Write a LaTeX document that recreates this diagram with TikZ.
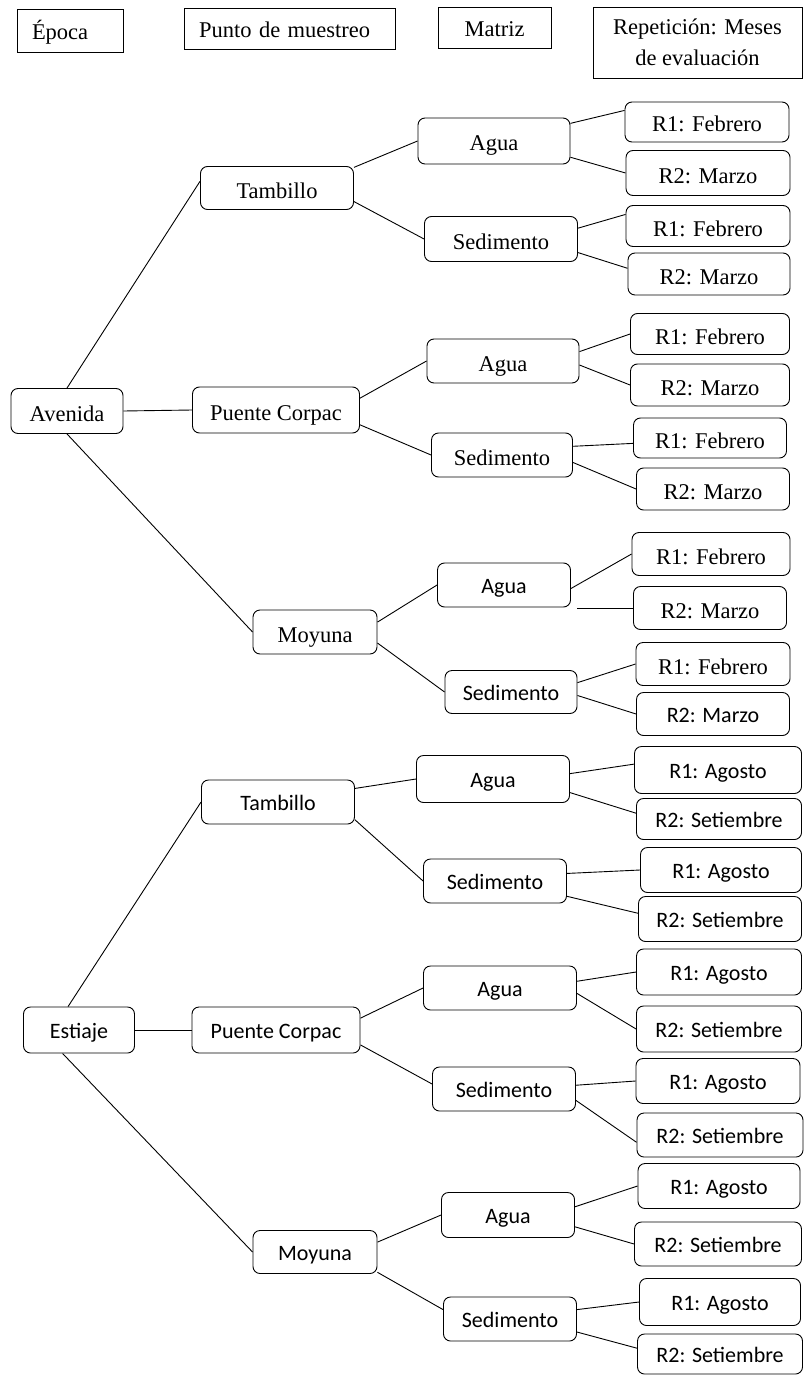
\documentclass[tikz,border=0pt]{standalone}
\usepackage{fontspec}
\setmainfont{Liberation Serif}
\newfontfamily\calfont{Carlito}

\tikzset{
	hdr/.style={draw, line width=0.9pt, inner sep=0pt, align=center, font=\fontsize{22.5}{31}\selectfont},
	hdrl/.style={hdr, align=left, inner xsep=15pt, text height=18pt, text depth=0pt},
	box/.style={draw, rounded corners=7pt, line width=0.9pt, inner sep=0pt, align=center, text height=20pt, text depth=0pt, font=\fontsize{22.5}{26}\selectfont},
	cbox/.style={box, text height=16pt, font=\calfont\fontsize{22}{26}\selectfont},
	sz/.style 2 args={minimum width=#1pt, minimum height=#2pt},
	link/.style={line width=0.9pt},
}

\begin{document}
\begin{tikzpicture}[x=1pt, y=-1pt]
	\useasboundingbox (0,0) rectangle (803,1375);
	% encabezado
	\node[hdrl, text width=76pt, minimum height=43pt] (epoca) at (70,30.5) {Época};
	\node[hdrl, text width=181pt, minimum height=41pt] (punto) at (289.5,28.5) {Punto de muestreo};
	\node[hdr, sz={113}{41}, text height=18pt, text depth=0pt] (matriz) at (494.5,27.5) {Matriz};
	\node[hdr, sz={209}{71}] (repet) at (697.5,42.5) {Repetición: Meses\\de evaluación};
	
	% avenida
	\node[box, sz={112}{45}] (avenida) at (67,411) {Avenida};
	\node[box, sz={153}{43}] (tamA) at (277,188) {Tambillo};
	\node[box, sz={152}{46}] (aguaTA) at (494,141) {Agua};
	\node[box, sz={153}{45}] (sedTA) at (501,239) {Sedimento};
	\node[box, sz={164}{40}] (rA1) at (707,122) {R1: Febrero};
	\node[box, sz={164}{45}] (rA2) at (708,173) {R2: Marzo};
	\node[box, sz={164}{41}] (rA3) at (708,226) {R1: Febrero};
	\node[box, sz={162}{42}] (rA4) at (709,274) {R2: Marzo};
	\node[box, sz={167}{46}] (pcA) at (276,410) {Puente Corpac};
	\node[box, sz={152}{44}] (aguaPA) at (503,361) {Agua};
	\node[box, sz={141}{44}] (sedPA) at (502,455) {Sedimento};
	\node[box, sz={159}{41}] (rA5) at (710,334) {R1: Febrero};
	\node[box, sz={159}{42}] (rA6) at (710,385) {R2: Marzo};
	\node[box, sz={153}{40}] (rA7) at (710,438) {R1: Febrero};
	\node[box, sz={153}{42}] (rA8) at (713,489) {R2: Marzo};
	\node[box, sz={124}{44}] (moyA) at (315,632) {Moyuna};
	\node[cbox, sz={133}{44}] (aguaMA) at (504,585) {Agua};
	\node[cbox, sz={132}{43}] (sedMA) at (511,692) {Sedimento};
	\node[box, sz={158}{43}] (rA9) at (711,554) {R1: Febrero};
	\node[box, sz={153}{43}] (rA10) at (710,608) {R2: Marzo};
	\node[box, sz={154}{43}] (rA11) at (713,664) {R1: Febrero};
	\node[cbox, sz={153}{43}] (rA12) at (713,714) {R2: Marzo};
	\coordinate (sueltoA) at (577,608);
	
	\draw[link] (avenida.north) -- (tamA.175);
	\draw[link] (avenida.east) -- (pcA.west);
	\draw[link] (avenida.south) -- (moyA.west);
	\draw[link] (tamA.15) -- (aguaTA.west);
	\draw[link] (tamA.-10) -- (sedTA.west);
	\draw[link] (aguaTA.13) -- (rA1.172);
	\draw[link] (aguaTA.-12) -- (rA2.west);
	\draw[link] (sedTA.8) -- (rA3.172);
	\draw[link] (sedTA.-10) -- (rA4.176);
	\draw[link] (pcA.8) -- (aguaPA.west);
	\draw[link] (pcA.-10) -- (sedPA.west);
	\draw[link] (aguaPA.7) -- (rA5.west);
	\draw[link] (aguaPA.-3) -- (rA6.west);
	\draw[link] (sedPA.7) -- (rA7.184);
	\draw[link] (sedPA.-6) -- (rA8.west);
	\draw[link] (moyA.9) -- (aguaMA.west);
	\draw[link] (moyA.-10) -- (sedMA.west);
	\draw[link] (aguaMA.-3) -- (rA9.west);
	\draw[link] (sueltoA) -- (rA10.west);
	\draw[link] (sedMA.8) -- (rA11.west);
	\draw[link] (sedMA.-3) -- (rA12.west);
	
	% estiaje
	\node[cbox, sz={111}{46}] (estiaje) at (79,1030) {Estiaje};
	\node[cbox, sz={153}{44}] (tamE) at (278,802) {Tambillo};
	\node[cbox, sz={153}{47}] (aguaTE) at (493,779) {Agua};
	\node[cbox, sz={143}{44}] (sedTE) at (495,881) {Sedimento};
	\node[cbox, sz={167}{47}] (rE1) at (718,770) {R1: Agosto};
	\node[cbox, sz={165}{41}] (rE2) at (719,819) {R2: Setiembre};
	\node[cbox, sz={161}{45}] (rE3) at (721,870) {R1: Agosto};
	\node[cbox, sz={163}{45}] (rE4) at (720,919) {R2: Setiembre};
	\node[cbox, sz={168}{46}] (pcE) at (276,1030) {Puente Corpac};
	\node[cbox, sz={153}{44}] (aguaPE) at (500,988) {Agua};
	\node[cbox, sz={143}{44}] (sedPE) at (504,1089) {Sedimento};
	\node[cbox, sz={165}{46}] (rE5) at (719,972) {R1: Agosto};
	\node[cbox, sz={165}{46}] (rE6) at (719,1029) {R2: Setiembre};
	\node[cbox, sz={164}{45}] (rE7) at (718,1081) {R1: Agosto};
	\node[cbox, sz={166}{44}] (rE8) at (720,1135) {R2: Setiembre};
	\node[cbox, sz={124}{43}] (moyE) at (315,1252) {Moyuna};
	\node[cbox, sz={133}{45}] (aguaME) at (508,1215) {Agua};
	\node[cbox, sz={133}{44}] (sedME) at (510,1319) {Sedimento};
	\node[cbox, sz={162}{45}] (rE9) at (719,1186) {R1: Agosto};
	\node[cbox, sz={167}{44}] (rE10) at (718,1244) {R2: Setiembre};
	\node[cbox, sz={161}{47}] (rE11) at (720,1302) {R1: Agosto};
	\node[cbox, sz={165}{40}] (rE12) at (720,1354) {R2: Setiembre};
	
	\draw[link] (estiaje.115) -- (tamE.west);
	\draw[link] (estiaje.east) -- (pcE.west);
	\draw[link] (estiaje.235) -- (moyE.west);
	\draw[link] (tamE.10) -- (aguaTE.west);
	\draw[link] (tamE.-13) -- (sedTE.west);
	\draw[link] (aguaTE.4) -- (rE1.176);
	\draw[link] (aguaTE.-10) -- (rE2.176);
	\draw[link] (sedTE.6) -- (rE3.west);
	\draw[link] (sedTE.-12) -- (rE4.176);
	\draw[link] (pcE.8) -- (aguaPE.west);
	\draw[link] (pcE.-10) -- (sedPE.176);
	\draw[link] (aguaPE.5) -- (rE5.west);
	\draw[link] (aguaPE.-4) -- (rE6.west);
	\draw[link] (sedPE.3) -- (rE7.west);
	\draw[link] (sedPE.-9) -- (rE8.185);
	\draw[link] (moyE.9) -- (aguaME.west);
	\draw[link] (moyE.-18) -- (sedME.172);
	\draw[link] (aguaME.7) -- (rE9.west);
	\draw[link] (aguaME.-10) -- (rE10.west);
	\draw[link] (sedME.8) -- (rE11.west);
	\draw[link] (sedME.-11) -- (rE12.176);
\end{tikzpicture}
\end{document}
